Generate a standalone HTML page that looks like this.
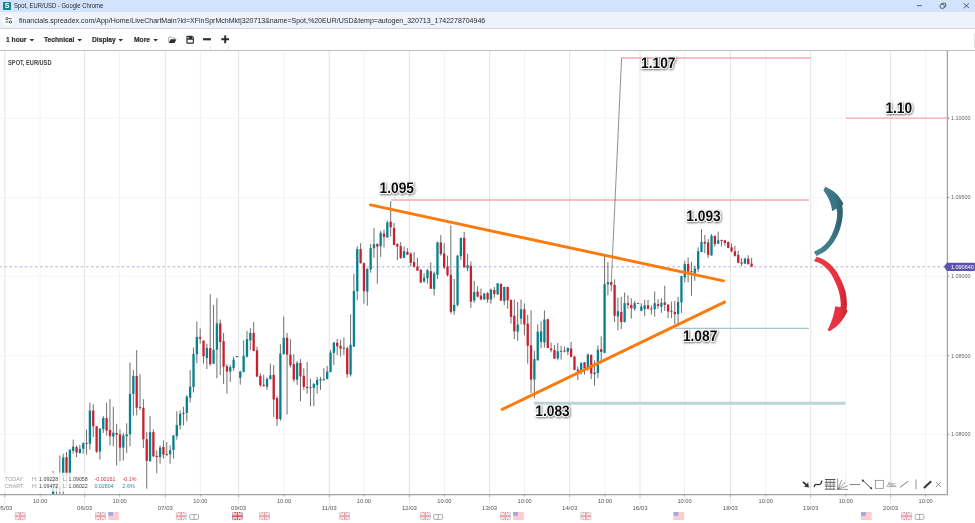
<!DOCTYPE html>
<html lang="en"><head><meta charset="utf-8"><title>Spot, EUR/USD - Google Chrome</title>
<style>
html,body{margin:0;padding:0;background:#fff;}
body{width:975px;height:523px;overflow:hidden;position:relative;font-family:"Liberation Sans",Arial,sans-serif;}
.titlebar{position:absolute;left:0;top:0;width:975px;height:11.5px;background:#d3e3fd;}
.urlbar{position:absolute;left:0;top:11.5px;width:975px;height:17px;background:#eef2fb;}
.toolbar{position:absolute;left:0;top:28px;width:975px;height:21.5px;background:#fff;border-top:1.3px solid #d2d3d6;border-bottom:1.8px solid #bcbcbc;box-sizing:border-box;height:23px}
.t{position:absolute;white-space:nowrap;line-height:1;}
.chart{position:absolute;left:0;top:0;}
.fav{position:absolute;left:3.1px;top:1.5px;width:7.9px;height:8.2px;background:#17878c;border-radius:0.6px;}
.fav span{position:absolute;left:0;top:0.6px;width:7.9px;text-align:center;color:#fff;font-weight:700;font-size:7px;line-height:7px;}
.tb{top:37.45px;font-size:6.9px;font-weight:700;color:#2e2e2e;-webkit-text-stroke:0.2px #2e2e2e;transform:scaleX(0.97);transform-origin:0 0;}
</style></head><body>
<div class="titlebar"></div>
<div class="urlbar"></div>
<div class="toolbar"></div>
<div class="fav"><span>S</span></div>
<div class="t" id="ttl" style="left:13.7px;top:2.85px;font-size:6.7px;color:#2a2a2a;transform:scaleX(0.887);transform-origin:0 0;">Spot, EUR/USD - Google Chrome</div>
<svg class="chart" width="975" height="51" viewBox="0 0 975 51" style="z-index:2">
 <circle cx="8.1" cy="20" r="5.6" fill="#fff"/>
 <g stroke="#3a3a3a" stroke-width="0.85" fill="none"><path d="M8.8 18.7 H11.9 M5.5 22 H8.6"/><circle cx="6.9" cy="18.7" r="1.15"/><circle cx="10.5" cy="22" r="1.15"/></g>
 <path d="M916.8 5.7 H922" stroke="#333" stroke-width="0.7"/>
 <g fill="none" stroke="#333" stroke-width="0.7"><rect x="940.2" y="4.3" width="4" height="4" rx="1"/><path d="M941.6 4.3 V3.9 Q941.6 3.2 942.4 3.2 H944.8 Q945.7 3.2 945.7 4 V6.4 Q945.7 7.1 944.9 7.1 H944.3"/></g>
 <path d="M963.5 3.3 L969.1 8.1 M969.1 3.3 L963.5 8.1" stroke="#333" stroke-width="0.75"/>
 <g fill="#2e2e2e">
  <path d="M29.6 39.1 H34.2 L31.9 41.5 Z"/><path d="M77.4 39.1 H82 L79.7 41.5 Z"/><path d="M118.4 39.1 H123 L120.7 41.5 Z"/><path d="M153.3 39.1 H157.9 L155.6 41.5 Z"/>
  <path d="M168.7 42.2 V37.5 Q168.7 37 169.2 37 H170.9 L171.7 37.9 H174.3 Q174.8 37.9 174.8 38.4 V39" fill="none" stroke="#8a8a8a" stroke-width="0.7"/>
  <path d="M170.6 39.2 H176.4 L174.6 42.9 H168.8 Z"/>
  <path d="M186.4 36.7 Q186.4 35.8 187.3 35.8 H192.2 L193.9 37.3 V42.8 Q193.9 43.7 193 43.7 H187.3 Q186.4 43.7 186.4 42.8 Z M187.6 39.7 V42.6 H192.8 V39.7 Z M187.6 36.9 V38.5 H188.7 V36.9 Z M192.1 36.9 V38.5 H192.8 V37.6 Z" fill-rule="evenodd"/>
  <rect x="203.1" y="38.15" width="7.8" height="2.2"/>
  <rect x="221.3" y="38.25" width="7.8" height="2.0"/><rect x="224.2" y="35.4" width="2.0" height="7.8"/>
 </g>
 <path d="M210.5 45.6 V49.4 M228.5 45.6 V49.4" stroke="#d0d0d0" stroke-width="0.6"/>
 <rect x="974.2" y="33.4" width="0.8" height="14.3" fill="#dcdcdc"/>
</svg>
<div class="t tb" style="left:5.9px;">1 hour</div>
<div class="t tb" style="left:44.3px;">Technical</div>
<div class="t tb" style="left:92.2px;">Display</div>
<div class="t tb" style="left:133.6px;">More</div>
<div class="t" id="url" style="left:18.7px;top:16.9px;font-size:7.8px;color:#2a2a2a;transform:scaleX(0.9);transform-origin:0 0;">financials.spreadex.com/App/Home/LiveChartMain?id=XFinSprMchMkt|320713&amp;name=Spot,%20EUR/USD&amp;temp=autogen_320713_1742278704946</div>
<svg class="chart" width="975" height="523" viewBox="0 0 975 523">
<defs><filter id="ts" x="-20%" y="-20%" width="140%" height="150%"><feDropShadow dx="0.7" dy="0.9" stdDeviation="0.9" flood-color="#000" flood-opacity="0.6"/></filter></defs>
<line x1="4.8" y1="51" x2="4.8" y2="494.5" stroke="#dcdcdc" stroke-width="0.8"/>
<line x1="84.6" y1="51" x2="84.6" y2="494.5" stroke="#dcdcdc" stroke-width="0.8"/>
<line x1="165.3" y1="51" x2="165.3" y2="494.5" stroke="#dcdcdc" stroke-width="0.8"/>
<line x1="238.6" y1="51" x2="238.6" y2="494.5" stroke="#dcdcdc" stroke-width="0.8"/>
<line x1="329.2" y1="51" x2="329.2" y2="494.5" stroke="#dcdcdc" stroke-width="0.8"/>
<line x1="409.3" y1="51" x2="409.3" y2="494.5" stroke="#dcdcdc" stroke-width="0.8"/>
<line x1="489.6" y1="51" x2="489.6" y2="494.5" stroke="#dcdcdc" stroke-width="0.8"/>
<line x1="569.7" y1="51" x2="569.7" y2="494.5" stroke="#dcdcdc" stroke-width="0.8"/>
<line x1="640" y1="51" x2="640" y2="494.5" stroke="#dcdcdc" stroke-width="0.8"/>
<line x1="730.4" y1="51" x2="730.4" y2="494.5" stroke="#dcdcdc" stroke-width="0.8"/>
<line x1="810.7" y1="51" x2="810.7" y2="494.5" stroke="#dcdcdc" stroke-width="0.8"/>
<line x1="890.6" y1="51" x2="890.6" y2="494.5" stroke="#dcdcdc" stroke-width="0.8"/>
<line x1="40.2" y1="51" x2="40.2" y2="494.5" stroke="#efefef" stroke-width="0.8"/>
<line x1="119.6" y1="51" x2="119.6" y2="494.5" stroke="#efefef" stroke-width="0.8"/>
<line x1="200.4" y1="51" x2="200.4" y2="494.5" stroke="#efefef" stroke-width="0.8"/>
<line x1="284" y1="51" x2="284" y2="494.5" stroke="#efefef" stroke-width="0.8"/>
<line x1="363.9" y1="51" x2="363.9" y2="494.5" stroke="#efefef" stroke-width="0.8"/>
<line x1="444.4" y1="51" x2="444.4" y2="494.5" stroke="#efefef" stroke-width="0.8"/>
<line x1="524.6" y1="51" x2="524.6" y2="494.5" stroke="#efefef" stroke-width="0.8"/>
<line x1="605" y1="51" x2="605" y2="494.5" stroke="#efefef" stroke-width="0.8"/>
<line x1="684.5" y1="51" x2="684.5" y2="494.5" stroke="#efefef" stroke-width="0.8"/>
<line x1="765.7" y1="51" x2="765.7" y2="494.5" stroke="#efefef" stroke-width="0.8"/>
<line x1="845.8" y1="51" x2="845.8" y2="494.5" stroke="#efefef" stroke-width="0.8"/>
<line x1="925.6" y1="51" x2="925.6" y2="494.5" stroke="#efefef" stroke-width="0.8"/>
<line x1="0" y1="118.2" x2="945.8" y2="118.2" stroke="#f3f3f3" stroke-width="0.9"/>
<line x1="0" y1="197.5" x2="945.8" y2="197.5" stroke="#f3f3f3" stroke-width="0.9"/>
<line x1="0" y1="276.3" x2="945.8" y2="276.3" stroke="#f3f3f3" stroke-width="0.9"/>
<line x1="0" y1="355.7" x2="945.8" y2="355.7" stroke="#f3f3f3" stroke-width="0.9"/>
<line x1="0" y1="434.4" x2="945.8" y2="434.4" stroke="#f3f3f3" stroke-width="0.9"/>
<line x1="-0.75" y1="266.7" x2="944" y2="266.7" stroke="#c9c6ed" stroke-width="1.35" stroke-dasharray="2.6 2.5"/>
<g id="candles">
<line x1="53.14" y1="470.9" x2="53.14" y2="494.5" stroke="#4a4a4a" stroke-width="0.8"/>
<rect x="51.99" y="484.3" width="2.3" height="10.2" fill="#06828f"/>
<line x1="56.48" y1="483.2" x2="56.48" y2="494.5" stroke="#4a4a4a" stroke-width="0.8"/>
<rect x="55.33" y="483.8" width="2.3" height="5.0" fill="#c9202f"/>
<line x1="59.83" y1="455.4" x2="59.83" y2="494.5" stroke="#4a4a4a" stroke-width="0.8"/>
<rect x="58.68" y="487.0" width="2.3" height="3.0" fill="#06828f"/>
<line x1="63.17" y1="453.7" x2="63.17" y2="494.5" stroke="#4a4a4a" stroke-width="0.8"/>
<rect x="62.02" y="457.6" width="2.3" height="19.0" fill="#06828f"/>
<line x1="66.51" y1="452.1" x2="66.51" y2="486.2" stroke="#4a4a4a" stroke-width="0.8"/>
<rect x="65.36" y="457.1" width="2.3" height="19.0" fill="#c9202f"/>
<line x1="69.85" y1="449.6" x2="69.85" y2="477.0" stroke="#4a4a4a" stroke-width="0.8"/>
<rect x="68.70" y="449.6" width="2.3" height="26.4" fill="#06828f"/>
<line x1="73.19" y1="439.6" x2="73.19" y2="453.7" stroke="#4a4a4a" stroke-width="0.8"/>
<rect x="72.04" y="446.6" width="2.3" height="4.3" fill="#06828f"/>
<line x1="76.54" y1="445.4" x2="76.54" y2="457.1" stroke="#4a4a4a" stroke-width="0.8"/>
<rect x="75.39" y="447.1" width="2.3" height="5.5" fill="#c9202f"/>
<line x1="79.88" y1="444.9" x2="79.88" y2="453.7" stroke="#4a4a4a" stroke-width="0.8"/>
<rect x="78.73" y="448.8" width="2.3" height="4.2" fill="#06828f"/>
<line x1="83.22" y1="442.1" x2="83.22" y2="453.7" stroke="#4a4a4a" stroke-width="0.8"/>
<rect x="82.07" y="443.3" width="2.3" height="5.5" fill="#06828f"/>
<line x1="86.56" y1="429.6" x2="86.56" y2="454.6" stroke="#4a4a4a" stroke-width="0.8"/>
<line x1="85.36" y1="443.4" x2="87.76" y2="443.4" stroke="#444" stroke-width="0.8"/>
<line x1="89.90" y1="402.5" x2="89.90" y2="449.6" stroke="#4a4a4a" stroke-width="0.8"/>
<rect x="88.75" y="410.5" width="2.3" height="33.3" fill="#06828f"/>
<line x1="93.25" y1="404.2" x2="93.25" y2="437.1" stroke="#4a4a4a" stroke-width="0.8"/>
<rect x="92.10" y="410.5" width="2.3" height="15.8" fill="#c9202f"/>
<line x1="96.59" y1="426.0" x2="96.59" y2="452.9" stroke="#4a4a4a" stroke-width="0.8"/>
<rect x="95.44" y="426.3" width="2.3" height="25.3" fill="#c9202f"/>
<line x1="99.93" y1="428.0" x2="99.93" y2="459.6" stroke="#4a4a4a" stroke-width="0.8"/>
<rect x="98.78" y="428.8" width="2.3" height="22.8" fill="#06828f"/>
<line x1="103.27" y1="416.0" x2="103.27" y2="433.0" stroke="#4a4a4a" stroke-width="0.8"/>
<rect x="102.12" y="418.0" width="2.3" height="11.3" fill="#06828f"/>
<line x1="106.61" y1="402.8" x2="106.61" y2="435.4" stroke="#4a4a4a" stroke-width="0.8"/>
<rect x="105.46" y="418.0" width="2.3" height="12.5" fill="#c9202f"/>
<line x1="109.96" y1="399.2" x2="109.96" y2="445.4" stroke="#4a4a4a" stroke-width="0.8"/>
<rect x="108.81" y="430.0" width="2.3" height="6.3" fill="#c9202f"/>
<line x1="113.30" y1="406.8" x2="113.30" y2="446.3" stroke="#4a4a4a" stroke-width="0.8"/>
<rect x="112.15" y="432.6" width="2.3" height="4.0" fill="#06828f"/>
<line x1="116.64" y1="423.8" x2="116.64" y2="465.4" stroke="#4a4a4a" stroke-width="0.8"/>
<rect x="115.49" y="433.0" width="2.3" height="1.7" fill="#c9202f"/>
<line x1="119.98" y1="429.3" x2="119.98" y2="461.2" stroke="#4a4a4a" stroke-width="0.8"/>
<rect x="118.83" y="434.3" width="2.3" height="13.3" fill="#c9202f"/>
<line x1="123.32" y1="433.0" x2="123.32" y2="460.4" stroke="#4a4a4a" stroke-width="0.8"/>
<rect x="122.17" y="435.4" width="2.3" height="12.1" fill="#06828f"/>
<line x1="126.67" y1="423.3" x2="126.67" y2="452.9" stroke="#4a4a4a" stroke-width="0.8"/>
<rect x="125.52" y="434.3" width="2.3" height="2.0" fill="#06828f"/>
<line x1="130.01" y1="362.6" x2="130.01" y2="446.3" stroke="#4a4a4a" stroke-width="0.8"/>
<rect x="128.86" y="393.9" width="2.3" height="40.4" fill="#06828f"/>
<line x1="133.35" y1="370.1" x2="133.35" y2="415.5" stroke="#4a4a4a" stroke-width="0.8"/>
<rect x="132.20" y="375.9" width="2.3" height="18.0" fill="#06828f"/>
<line x1="136.69" y1="350.1" x2="136.69" y2="415.5" stroke="#4a4a4a" stroke-width="0.8"/>
<rect x="135.54" y="375.9" width="2.3" height="31.8" fill="#c9202f"/>
<line x1="140.03" y1="374.2" x2="140.03" y2="410.0" stroke="#4a4a4a" stroke-width="0.8"/>
<line x1="138.83" y1="407.5" x2="141.23" y2="407.5" stroke="#444" stroke-width="0.8"/>
<line x1="143.38" y1="399.2" x2="143.38" y2="447.9" stroke="#4a4a4a" stroke-width="0.8"/>
<rect x="142.23" y="407.8" width="2.3" height="31.4" fill="#c9202f"/>
<line x1="146.72" y1="432.1" x2="146.72" y2="488.7" stroke="#4a4a4a" stroke-width="0.8"/>
<rect x="145.57" y="439.3" width="2.3" height="21.6" fill="#c9202f"/>
<line x1="150.06" y1="416.0" x2="150.06" y2="461.6" stroke="#4a4a4a" stroke-width="0.8"/>
<rect x="148.91" y="432.1" width="2.3" height="29.1" fill="#06828f"/>
<line x1="153.40" y1="429.3" x2="153.40" y2="457.1" stroke="#4a4a4a" stroke-width="0.8"/>
<rect x="152.25" y="432.1" width="2.3" height="24.1" fill="#c9202f"/>
<line x1="156.74" y1="450.4" x2="156.74" y2="473.2" stroke="#4a4a4a" stroke-width="0.8"/>
<rect x="155.59" y="455.9" width="2.3" height="1.2" fill="#c9202f"/>
<line x1="160.09" y1="445.4" x2="160.09" y2="463.7" stroke="#4a4a4a" stroke-width="0.8"/>
<rect x="158.94" y="447.6" width="2.3" height="9.5" fill="#06828f"/>
<line x1="163.43" y1="440.4" x2="163.43" y2="458.7" stroke="#4a4a4a" stroke-width="0.8"/>
<rect x="162.28" y="447.1" width="2.3" height="7.5" fill="#c9202f"/>
<line x1="166.77" y1="442.1" x2="166.77" y2="455.7" stroke="#4a4a4a" stroke-width="0.8"/>
<line x1="165.57" y1="454.6" x2="167.97" y2="454.6" stroke="#444" stroke-width="0.8"/>
<line x1="170.11" y1="445.4" x2="170.11" y2="463.7" stroke="#4a4a4a" stroke-width="0.8"/>
<rect x="168.96" y="450.1" width="2.3" height="4.2" fill="#06828f"/>
<line x1="173.45" y1="435.4" x2="173.45" y2="458.7" stroke="#4a4a4a" stroke-width="0.8"/>
<rect x="172.30" y="435.4" width="2.3" height="14.6" fill="#06828f"/>
<line x1="176.80" y1="411.3" x2="176.80" y2="439.6" stroke="#4a4a4a" stroke-width="0.8"/>
<rect x="175.65" y="425.0" width="2.3" height="11.0" fill="#06828f"/>
<line x1="180.14" y1="410.5" x2="180.14" y2="429.6" stroke="#4a4a4a" stroke-width="0.8"/>
<rect x="178.99" y="413.8" width="2.3" height="11.6" fill="#06828f"/>
<line x1="183.48" y1="406.8" x2="183.48" y2="425.5" stroke="#4a4a4a" stroke-width="0.8"/>
<line x1="182.28" y1="413.5" x2="184.68" y2="413.5" stroke="#444" stroke-width="0.8"/>
<line x1="186.82" y1="395.0" x2="186.82" y2="421.3" stroke="#4a4a4a" stroke-width="0.8"/>
<rect x="185.67" y="396.7" width="2.3" height="16.3" fill="#06828f"/>
<line x1="190.16" y1="370.1" x2="190.16" y2="402.5" stroke="#4a4a4a" stroke-width="0.8"/>
<rect x="189.01" y="386.7" width="2.3" height="11.1" fill="#06828f"/>
<line x1="193.51" y1="347.6" x2="193.51" y2="392.5" stroke="#4a4a4a" stroke-width="0.8"/>
<rect x="192.36" y="353.9" width="2.3" height="33.1" fill="#06828f"/>
<line x1="196.85" y1="321.5" x2="196.85" y2="363.4" stroke="#4a4a4a" stroke-width="0.8"/>
<rect x="195.70" y="337.0" width="2.3" height="17.3" fill="#06828f"/>
<line x1="200.19" y1="328.5" x2="200.19" y2="343.5" stroke="#4a4a4a" stroke-width="0.8"/>
<rect x="199.04" y="337.2" width="2.3" height="1.7" fill="#c9202f"/>
<line x1="203.53" y1="340.3" x2="203.53" y2="363.6" stroke="#4a4a4a" stroke-width="0.8"/>
<rect x="202.38" y="340.7" width="2.3" height="15.6" fill="#c9202f"/>
<line x1="206.87" y1="343.8" x2="206.87" y2="369.1" stroke="#4a4a4a" stroke-width="0.8"/>
<rect x="205.72" y="348.0" width="2.3" height="10.0" fill="#06828f"/>
<line x1="210.22" y1="294.1" x2="210.22" y2="365.8" stroke="#4a4a4a" stroke-width="0.8"/>
<rect x="209.07" y="348.0" width="2.3" height="16.1" fill="#c9202f"/>
<line x1="213.56" y1="304.9" x2="213.56" y2="364.0" stroke="#4a4a4a" stroke-width="0.8"/>
<rect x="212.41" y="349.7" width="2.3" height="14.0" fill="#06828f"/>
<line x1="216.90" y1="298.3" x2="216.90" y2="378.3" stroke="#4a4a4a" stroke-width="0.8"/>
<rect x="215.75" y="323.4" width="2.3" height="26.3" fill="#06828f"/>
<line x1="220.24" y1="319.5" x2="220.24" y2="374.9" stroke="#4a4a4a" stroke-width="0.8"/>
<rect x="219.09" y="323.4" width="2.3" height="18.6" fill="#c9202f"/>
<line x1="223.58" y1="332.9" x2="223.58" y2="384.1" stroke="#4a4a4a" stroke-width="0.8"/>
<rect x="222.43" y="341.2" width="2.3" height="25.5" fill="#c9202f"/>
<line x1="226.93" y1="364.1" x2="226.93" y2="393.6" stroke="#4a4a4a" stroke-width="0.8"/>
<rect x="225.78" y="366.3" width="2.3" height="5.3" fill="#c9202f"/>
<line x1="230.27" y1="365.0" x2="230.27" y2="381.9" stroke="#4a4a4a" stroke-width="0.8"/>
<rect x="229.12" y="367.1" width="2.3" height="4.5" fill="#06828f"/>
<line x1="233.61" y1="356.6" x2="233.61" y2="370.8" stroke="#4a4a4a" stroke-width="0.8"/>
<rect x="232.46" y="359.6" width="2.3" height="8.3" fill="#06828f"/>
<line x1="236.95" y1="356.0" x2="236.95" y2="357.3" stroke="#4a4a4a" stroke-width="0.8"/>
<line x1="235.75" y1="356.6" x2="238.15" y2="356.6" stroke="#444" stroke-width="0.8"/>
<line x1="240.29" y1="370.8" x2="240.29" y2="384.6" stroke="#4a4a4a" stroke-width="0.8"/>
<rect x="239.14" y="371.6" width="2.3" height="6.3" fill="#06828f"/>
<line x1="243.64" y1="340.3" x2="243.64" y2="372.4" stroke="#4a4a4a" stroke-width="0.8"/>
<rect x="242.49" y="355.8" width="2.3" height="16.1" fill="#06828f"/>
<line x1="246.98" y1="330.9" x2="246.98" y2="357.5" stroke="#4a4a4a" stroke-width="0.8"/>
<rect x="245.83" y="339.2" width="2.3" height="17.5" fill="#06828f"/>
<line x1="250.32" y1="328.2" x2="250.32" y2="350.0" stroke="#4a4a4a" stroke-width="0.8"/>
<rect x="249.17" y="332.9" width="2.3" height="7.5" fill="#06828f"/>
<line x1="253.66" y1="322.0" x2="253.66" y2="351.3" stroke="#4a4a4a" stroke-width="0.8"/>
<rect x="252.51" y="332.9" width="2.3" height="18.0" fill="#c9202f"/>
<line x1="257.00" y1="346.7" x2="257.00" y2="376.9" stroke="#4a4a4a" stroke-width="0.8"/>
<rect x="255.85" y="350.3" width="2.3" height="26.3" fill="#c9202f"/>
<line x1="260.35" y1="373.3" x2="260.35" y2="386.6" stroke="#4a4a4a" stroke-width="0.8"/>
<rect x="259.20" y="375.8" width="2.3" height="9.5" fill="#c9202f"/>
<line x1="263.69" y1="374.9" x2="263.69" y2="386.6" stroke="#4a4a4a" stroke-width="0.8"/>
<rect x="262.54" y="384.8" width="2.3" height="1.3" fill="#c9202f"/>
<line x1="267.03" y1="377.4" x2="267.03" y2="389.9" stroke="#4a4a4a" stroke-width="0.8"/>
<rect x="265.88" y="378.8" width="2.3" height="7.8" fill="#06828f"/>
<line x1="270.37" y1="363.6" x2="270.37" y2="379.4" stroke="#4a4a4a" stroke-width="0.8"/>
<rect x="269.22" y="375.3" width="2.3" height="3.8" fill="#06828f"/>
<line x1="273.71" y1="365.0" x2="273.71" y2="416.9" stroke="#4a4a4a" stroke-width="0.8"/>
<rect x="272.56" y="374.9" width="2.3" height="24.6" fill="#c9202f"/>
<line x1="277.06" y1="396.2" x2="277.06" y2="426.0" stroke="#4a4a4a" stroke-width="0.8"/>
<rect x="275.91" y="398.2" width="2.3" height="20.8" fill="#c9202f"/>
<line x1="280.40" y1="344.3" x2="280.40" y2="420.7" stroke="#4a4a4a" stroke-width="0.8"/>
<rect x="279.25" y="353.6" width="2.3" height="65.4" fill="#06828f"/>
<line x1="283.74" y1="316.5" x2="283.74" y2="354.5" stroke="#4a4a4a" stroke-width="0.8"/>
<rect x="282.59" y="337.8" width="2.3" height="16.3" fill="#06828f"/>
<line x1="287.08" y1="332.9" x2="287.08" y2="414.5" stroke="#4a4a4a" stroke-width="0.8"/>
<rect x="285.93" y="337.8" width="2.3" height="16.8" fill="#c9202f"/>
<line x1="290.42" y1="339.2" x2="290.42" y2="367.5" stroke="#4a4a4a" stroke-width="0.8"/>
<rect x="289.27" y="354.6" width="2.3" height="10.6" fill="#c9202f"/>
<line x1="293.77" y1="354.1" x2="293.77" y2="381.9" stroke="#4a4a4a" stroke-width="0.8"/>
<rect x="292.62" y="364.1" width="2.3" height="15.5" fill="#c9202f"/>
<line x1="297.11" y1="360.8" x2="297.11" y2="384.9" stroke="#4a4a4a" stroke-width="0.8"/>
<rect x="295.96" y="363.0" width="2.3" height="16.6" fill="#06828f"/>
<line x1="300.45" y1="359.1" x2="300.45" y2="401.2" stroke="#4a4a4a" stroke-width="0.8"/>
<rect x="299.30" y="363.0" width="2.3" height="13.3" fill="#c9202f"/>
<line x1="303.79" y1="368.3" x2="303.79" y2="389.9" stroke="#4a4a4a" stroke-width="0.8"/>
<rect x="302.64" y="375.8" width="2.3" height="11.1" fill="#c9202f"/>
<line x1="307.13" y1="362.1" x2="307.13" y2="393.6" stroke="#4a4a4a" stroke-width="0.8"/>
<rect x="305.98" y="386.9" width="2.3" height="1.0" fill="#c9202f"/>
<line x1="310.48" y1="378.6" x2="310.48" y2="406.2" stroke="#4a4a4a" stroke-width="0.8"/>
<line x1="309.28" y1="387.7" x2="311.68" y2="387.7" stroke="#444" stroke-width="0.8"/>
<line x1="313.82" y1="382.9" x2="313.82" y2="406.2" stroke="#4a4a4a" stroke-width="0.8"/>
<rect x="312.67" y="384.1" width="2.3" height="3.8" fill="#06828f"/>
<line x1="317.16" y1="376.9" x2="317.16" y2="393.6" stroke="#4a4a4a" stroke-width="0.8"/>
<rect x="316.01" y="379.9" width="2.3" height="5.0" fill="#06828f"/>
<line x1="320.50" y1="376.9" x2="320.50" y2="389.9" stroke="#4a4a4a" stroke-width="0.8"/>
<rect x="319.35" y="379.3" width="2.3" height="1.3" fill="#06828f"/>
<line x1="323.84" y1="368.3" x2="323.84" y2="380.8" stroke="#4a4a4a" stroke-width="0.8"/>
<line x1="322.64" y1="379.6" x2="325.04" y2="379.6" stroke="#444" stroke-width="0.8"/>
<line x1="327.19" y1="365.8" x2="327.19" y2="379.4" stroke="#4a4a4a" stroke-width="0.8"/>
<rect x="326.04" y="371.6" width="2.3" height="7.5" fill="#06828f"/>
<line x1="330.53" y1="350.0" x2="330.53" y2="372.4" stroke="#4a4a4a" stroke-width="0.8"/>
<rect x="329.38" y="352.5" width="2.3" height="19.5" fill="#06828f"/>
<line x1="333.87" y1="342.0" x2="333.87" y2="365.0" stroke="#4a4a4a" stroke-width="0.8"/>
<rect x="332.72" y="342.5" width="2.3" height="10.5" fill="#06828f"/>
<line x1="337.21" y1="339.0" x2="337.21" y2="355.0" stroke="#4a4a4a" stroke-width="0.8"/>
<rect x="336.06" y="342.8" width="2.3" height="3.5" fill="#c9202f"/>
<line x1="340.55" y1="339.8" x2="340.55" y2="356.6" stroke="#4a4a4a" stroke-width="0.8"/>
<rect x="339.40" y="345.8" width="2.3" height="2.8" fill="#c9202f"/>
<line x1="343.90" y1="337.3" x2="343.90" y2="355.0" stroke="#4a4a4a" stroke-width="0.8"/>
<line x1="342.70" y1="348.3" x2="345.10" y2="348.3" stroke="#444" stroke-width="0.8"/>
<line x1="347.24" y1="346.7" x2="347.24" y2="377.8" stroke="#4a4a4a" stroke-width="0.8"/>
<rect x="346.09" y="348.3" width="2.3" height="25.8" fill="#c9202f"/>
<line x1="350.58" y1="314.4" x2="350.58" y2="376.6" stroke="#4a4a4a" stroke-width="0.8"/>
<rect x="349.43" y="344.8" width="2.3" height="29.8" fill="#06828f"/>
<line x1="353.92" y1="273.8" x2="353.92" y2="347.0" stroke="#4a4a4a" stroke-width="0.8"/>
<rect x="352.77" y="290.9" width="2.3" height="55.7" fill="#06828f"/>
<line x1="357.26" y1="246.2" x2="357.26" y2="300.3" stroke="#4a4a4a" stroke-width="0.8"/>
<rect x="356.11" y="249.1" width="2.3" height="42.1" fill="#06828f"/>
<line x1="360.61" y1="243.2" x2="360.61" y2="263.5" stroke="#4a4a4a" stroke-width="0.8"/>
<rect x="359.46" y="249.1" width="2.3" height="14.1" fill="#c9202f"/>
<line x1="363.95" y1="262.4" x2="363.95" y2="303.6" stroke="#4a4a4a" stroke-width="0.8"/>
<rect x="362.80" y="263.2" width="2.3" height="28.0" fill="#c9202f"/>
<line x1="367.29" y1="268.2" x2="367.29" y2="305.8" stroke="#4a4a4a" stroke-width="0.8"/>
<rect x="366.14" y="269.0" width="2.3" height="22.6" fill="#06828f"/>
<line x1="370.63" y1="244.1" x2="370.63" y2="272.8" stroke="#4a4a4a" stroke-width="0.8"/>
<rect x="369.48" y="247.9" width="2.3" height="21.6" fill="#06828f"/>
<line x1="373.97" y1="227.9" x2="373.97" y2="257.9" stroke="#4a4a4a" stroke-width="0.8"/>
<rect x="372.82" y="244.1" width="2.3" height="4.2" fill="#06828f"/>
<line x1="377.32" y1="243.2" x2="377.32" y2="283.7" stroke="#4a4a4a" stroke-width="0.8"/>
<rect x="376.17" y="244.1" width="2.3" height="2.5" fill="#c9202f"/>
<line x1="380.66" y1="230.8" x2="380.66" y2="256.9" stroke="#4a4a4a" stroke-width="0.8"/>
<rect x="379.51" y="232.9" width="2.3" height="13.3" fill="#06828f"/>
<line x1="384.00" y1="229.6" x2="384.00" y2="247.4" stroke="#4a4a4a" stroke-width="0.8"/>
<rect x="382.85" y="233.6" width="2.3" height="3.3" fill="#c9202f"/>
<line x1="387.34" y1="220.3" x2="387.34" y2="237.9" stroke="#4a4a4a" stroke-width="0.8"/>
<rect x="386.19" y="222.4" width="2.3" height="15.0" fill="#06828f"/>
<line x1="390.68" y1="201.3" x2="390.68" y2="236.6" stroke="#4a4a4a" stroke-width="0.8"/>
<rect x="389.53" y="221.6" width="2.3" height="5.8" fill="#c9202f"/>
<line x1="394.03" y1="222.9" x2="394.03" y2="245.2" stroke="#4a4a4a" stroke-width="0.8"/>
<rect x="392.88" y="227.9" width="2.3" height="17.0" fill="#c9202f"/>
<line x1="397.37" y1="243.2" x2="397.37" y2="260.2" stroke="#4a4a4a" stroke-width="0.8"/>
<rect x="396.22" y="244.1" width="2.3" height="2.5" fill="#c9202f"/>
<line x1="400.71" y1="242.1" x2="400.71" y2="259.0" stroke="#4a4a4a" stroke-width="0.8"/>
<rect x="399.56" y="246.2" width="2.3" height="11.6" fill="#c9202f"/>
<line x1="404.05" y1="246.6" x2="404.05" y2="258.2" stroke="#4a4a4a" stroke-width="0.8"/>
<rect x="402.90" y="251.2" width="2.3" height="6.7" fill="#06828f"/>
<line x1="407.39" y1="248.2" x2="407.39" y2="255.2" stroke="#4a4a4a" stroke-width="0.8"/>
<rect x="406.24" y="251.9" width="2.3" height="2.7" fill="#c9202f"/>
<line x1="410.74" y1="252.4" x2="410.74" y2="266.5" stroke="#4a4a4a" stroke-width="0.8"/>
<rect x="409.59" y="253.5" width="2.3" height="9.3" fill="#c9202f"/>
<line x1="414.08" y1="252.1" x2="414.08" y2="267.2" stroke="#4a4a4a" stroke-width="0.8"/>
<rect x="412.93" y="262.0" width="2.3" height="4.8" fill="#c9202f"/>
<line x1="417.42" y1="257.9" x2="417.42" y2="271.0" stroke="#4a4a4a" stroke-width="0.8"/>
<rect x="416.27" y="266.5" width="2.3" height="4.2" fill="#c9202f"/>
<line x1="420.76" y1="269.0" x2="420.76" y2="282.7" stroke="#4a4a4a" stroke-width="0.8"/>
<rect x="419.61" y="269.9" width="2.3" height="12.6" fill="#c9202f"/>
<line x1="424.10" y1="273.2" x2="424.10" y2="282.8" stroke="#4a4a4a" stroke-width="0.8"/>
<rect x="422.95" y="277.7" width="2.3" height="3.8" fill="#06828f"/>
<line x1="427.45" y1="269.0" x2="427.45" y2="283.7" stroke="#4a4a4a" stroke-width="0.8"/>
<rect x="426.30" y="270.2" width="2.3" height="8.0" fill="#06828f"/>
<line x1="430.79" y1="262.4" x2="430.79" y2="289.0" stroke="#4a4a4a" stroke-width="0.8"/>
<rect x="429.64" y="271.2" width="2.3" height="17.5" fill="#c9202f"/>
<line x1="434.13" y1="271.5" x2="434.13" y2="295.6" stroke="#4a4a4a" stroke-width="0.8"/>
<rect x="432.98" y="273.5" width="2.3" height="15.5" fill="#06828f"/>
<line x1="437.47" y1="241.6" x2="437.47" y2="279.0" stroke="#4a4a4a" stroke-width="0.8"/>
<rect x="436.32" y="242.4" width="2.3" height="32.4" fill="#06828f"/>
<line x1="440.81" y1="234.9" x2="440.81" y2="255.7" stroke="#4a4a4a" stroke-width="0.8"/>
<rect x="439.66" y="242.4" width="2.3" height="11.6" fill="#c9202f"/>
<line x1="444.16" y1="243.2" x2="444.16" y2="269.0" stroke="#4a4a4a" stroke-width="0.8"/>
<rect x="443.01" y="253.5" width="2.3" height="13.8" fill="#c9202f"/>
<line x1="447.50" y1="255.7" x2="447.50" y2="276.5" stroke="#4a4a4a" stroke-width="0.8"/>
<rect x="446.35" y="266.5" width="2.3" height="8.6" fill="#c9202f"/>
<line x1="450.84" y1="225.4" x2="450.84" y2="313.6" stroke="#4a4a4a" stroke-width="0.8"/>
<rect x="449.69" y="274.8" width="2.3" height="37.1" fill="#c9202f"/>
<line x1="454.18" y1="279.0" x2="454.18" y2="314.8" stroke="#4a4a4a" stroke-width="0.8"/>
<rect x="453.03" y="305.0" width="2.3" height="6.2" fill="#06828f"/>
<line x1="457.52" y1="254.9" x2="457.52" y2="306.6" stroke="#4a4a4a" stroke-width="0.8"/>
<rect x="456.37" y="255.7" width="2.3" height="49.2" fill="#06828f"/>
<line x1="460.87" y1="237.6" x2="460.87" y2="259.9" stroke="#4a4a4a" stroke-width="0.8"/>
<rect x="459.72" y="237.9" width="2.3" height="18.3" fill="#06828f"/>
<line x1="464.21" y1="231.9" x2="464.21" y2="267.7" stroke="#4a4a4a" stroke-width="0.8"/>
<rect x="463.06" y="237.9" width="2.3" height="29.4" fill="#c9202f"/>
<line x1="467.55" y1="254.0" x2="467.55" y2="271.2" stroke="#4a4a4a" stroke-width="0.8"/>
<rect x="466.40" y="265.2" width="2.3" height="3.0" fill="#06828f"/>
<line x1="470.89" y1="261.5" x2="470.89" y2="307.8" stroke="#4a4a4a" stroke-width="0.8"/>
<rect x="469.74" y="265.7" width="2.3" height="35.9" fill="#c9202f"/>
<line x1="474.23" y1="280.7" x2="474.23" y2="302.8" stroke="#4a4a4a" stroke-width="0.8"/>
<rect x="473.08" y="292.0" width="2.3" height="8.6" fill="#06828f"/>
<line x1="477.58" y1="286.2" x2="477.58" y2="297.3" stroke="#4a4a4a" stroke-width="0.8"/>
<rect x="476.43" y="291.6" width="2.3" height="5.0" fill="#c9202f"/>
<line x1="480.92" y1="288.7" x2="480.92" y2="300.3" stroke="#4a4a4a" stroke-width="0.8"/>
<rect x="479.77" y="295.6" width="2.3" height="3.8" fill="#c9202f"/>
<line x1="484.26" y1="292.8" x2="484.26" y2="300.0" stroke="#4a4a4a" stroke-width="0.8"/>
<rect x="483.11" y="293.6" width="2.3" height="5.8" fill="#06828f"/>
<line x1="487.60" y1="292.0" x2="487.60" y2="302.8" stroke="#4a4a4a" stroke-width="0.8"/>
<rect x="486.45" y="293.3" width="2.3" height="6.2" fill="#c9202f"/>
<line x1="490.94" y1="288.7" x2="490.94" y2="303.6" stroke="#4a4a4a" stroke-width="0.8"/>
<rect x="489.79" y="289.5" width="2.3" height="10.0" fill="#06828f"/>
<line x1="494.29" y1="287.0" x2="494.29" y2="297.8" stroke="#4a4a4a" stroke-width="0.8"/>
<rect x="493.14" y="290.0" width="2.3" height="4.0" fill="#c9202f"/>
<line x1="497.63" y1="283.3" x2="497.63" y2="294.8" stroke="#4a4a4a" stroke-width="0.8"/>
<rect x="496.48" y="283.3" width="2.3" height="11.1" fill="#06828f"/>
<line x1="500.97" y1="283.3" x2="500.97" y2="301.0" stroke="#4a4a4a" stroke-width="0.8"/>
<rect x="499.82" y="284.0" width="2.3" height="16.6" fill="#c9202f"/>
<line x1="504.31" y1="286.7" x2="504.31" y2="305.0" stroke="#4a4a4a" stroke-width="0.8"/>
<rect x="503.16" y="287.0" width="2.3" height="14.1" fill="#06828f"/>
<line x1="507.65" y1="286.7" x2="507.65" y2="308.7" stroke="#4a4a4a" stroke-width="0.8"/>
<rect x="506.50" y="287.0" width="2.3" height="13.3" fill="#c9202f"/>
<line x1="511.00" y1="299.5" x2="511.00" y2="323.6" stroke="#4a4a4a" stroke-width="0.8"/>
<rect x="509.85" y="299.9" width="2.3" height="17.1" fill="#c9202f"/>
<line x1="514.34" y1="299.5" x2="514.34" y2="339.1" stroke="#4a4a4a" stroke-width="0.8"/>
<rect x="513.19" y="315.8" width="2.3" height="15.5" fill="#c9202f"/>
<line x1="517.68" y1="302.0" x2="517.68" y2="340.8" stroke="#4a4a4a" stroke-width="0.8"/>
<rect x="516.53" y="324.5" width="2.3" height="7.2" fill="#06828f"/>
<line x1="521.02" y1="299.5" x2="521.02" y2="324.5" stroke="#4a4a4a" stroke-width="0.8"/>
<rect x="519.87" y="309.2" width="2.3" height="9.5" fill="#06828f"/>
<line x1="524.36" y1="303.4" x2="524.36" y2="335.3" stroke="#4a4a4a" stroke-width="0.8"/>
<rect x="523.21" y="309.2" width="2.3" height="15.3" fill="#c9202f"/>
<line x1="527.71" y1="314.8" x2="527.71" y2="363.6" stroke="#4a4a4a" stroke-width="0.8"/>
<rect x="526.56" y="323.7" width="2.3" height="22.1" fill="#c9202f"/>
<line x1="531.05" y1="310.4" x2="531.05" y2="392.9" stroke="#4a4a4a" stroke-width="0.8"/>
<rect x="529.90" y="345.3" width="2.3" height="34.3" fill="#c9202f"/>
<line x1="534.39" y1="350.8" x2="534.39" y2="398.2" stroke="#4a4a4a" stroke-width="0.8"/>
<rect x="533.24" y="359.1" width="2.3" height="20.5" fill="#06828f"/>
<line x1="537.73" y1="324.2" x2="537.73" y2="360.6" stroke="#4a4a4a" stroke-width="0.8"/>
<rect x="536.58" y="331.7" width="2.3" height="28.6" fill="#06828f"/>
<line x1="541.07" y1="321.2" x2="541.07" y2="348.3" stroke="#4a4a4a" stroke-width="0.8"/>
<rect x="539.92" y="331.3" width="2.3" height="10.6" fill="#06828f"/>
<line x1="544.42" y1="310.4" x2="544.42" y2="347.5" stroke="#4a4a4a" stroke-width="0.8"/>
<rect x="543.27" y="319.5" width="2.3" height="23.0" fill="#06828f"/>
<line x1="547.76" y1="318.7" x2="547.76" y2="348.3" stroke="#4a4a4a" stroke-width="0.8"/>
<rect x="546.61" y="319.2" width="2.3" height="28.8" fill="#c9202f"/>
<line x1="551.10" y1="342.5" x2="551.10" y2="352.4" stroke="#4a4a4a" stroke-width="0.8"/>
<rect x="549.95" y="348.5" width="2.3" height="1.7" fill="#c9202f"/>
<line x1="554.44" y1="345.0" x2="554.44" y2="359.1" stroke="#4a4a4a" stroke-width="0.8"/>
<rect x="553.29" y="350.0" width="2.3" height="8.6" fill="#c9202f"/>
<line x1="557.78" y1="343.0" x2="557.78" y2="360.3" stroke="#4a4a4a" stroke-width="0.8"/>
<rect x="556.63" y="351.3" width="2.3" height="7.0" fill="#06828f"/>
<line x1="561.13" y1="345.8" x2="561.13" y2="359.6" stroke="#4a4a4a" stroke-width="0.8"/>
<rect x="559.98" y="350.8" width="2.3" height="1.0" fill="#06828f"/>
<line x1="564.47" y1="346.6" x2="564.47" y2="352.4" stroke="#4a4a4a" stroke-width="0.8"/>
<rect x="563.32" y="350.6" width="2.3" height="1.0" fill="#c9202f"/>
<line x1="567.81" y1="347.5" x2="567.81" y2="354.9" stroke="#4a4a4a" stroke-width="0.8"/>
<rect x="566.66" y="348.0" width="2.3" height="3.7" fill="#06828f"/>
<line x1="571.15" y1="342.0" x2="571.15" y2="357.4" stroke="#4a4a4a" stroke-width="0.8"/>
<rect x="570.00" y="348.6" width="2.3" height="8.3" fill="#c9202f"/>
<line x1="574.49" y1="355.8" x2="574.49" y2="370.2" stroke="#4a4a4a" stroke-width="0.8"/>
<rect x="573.34" y="356.6" width="2.3" height="13.3" fill="#c9202f"/>
<line x1="577.84" y1="366.6" x2="577.84" y2="380.2" stroke="#4a4a4a" stroke-width="0.8"/>
<rect x="576.69" y="369.6" width="2.3" height="1.7" fill="#c9202f"/>
<line x1="581.18" y1="362.4" x2="581.18" y2="374.6" stroke="#4a4a4a" stroke-width="0.8"/>
<rect x="580.03" y="362.9" width="2.3" height="7.3" fill="#06828f"/>
<line x1="584.52" y1="361.9" x2="584.52" y2="374.6" stroke="#4a4a4a" stroke-width="0.8"/>
<rect x="583.37" y="362.4" width="2.3" height="6.2" fill="#c9202f"/>
<line x1="587.86" y1="353.3" x2="587.86" y2="370.7" stroke="#4a4a4a" stroke-width="0.8"/>
<rect x="586.71" y="354.6" width="2.3" height="13.3" fill="#06828f"/>
<line x1="591.20" y1="354.3" x2="591.20" y2="379.1" stroke="#4a4a4a" stroke-width="0.8"/>
<rect x="590.05" y="354.9" width="2.3" height="18.6" fill="#c9202f"/>
<line x1="594.55" y1="360.3" x2="594.55" y2="385.7" stroke="#4a4a4a" stroke-width="0.8"/>
<rect x="593.40" y="372.4" width="2.3" height="1.7" fill="#06828f"/>
<line x1="597.89" y1="345.3" x2="597.89" y2="378.2" stroke="#4a4a4a" stroke-width="0.8"/>
<rect x="596.74" y="349.6" width="2.3" height="23.3" fill="#06828f"/>
<line x1="601.23" y1="336.3" x2="601.23" y2="360.8" stroke="#4a4a4a" stroke-width="0.8"/>
<rect x="600.08" y="349.1" width="2.3" height="2.8" fill="#c9202f"/>
<line x1="604.57" y1="256.3" x2="604.57" y2="353.3" stroke="#4a4a4a" stroke-width="0.8"/>
<rect x="603.42" y="284.2" width="2.3" height="68.7" fill="#06828f"/>
<line x1="607.91" y1="262.1" x2="607.91" y2="295.4" stroke="#4a4a4a" stroke-width="0.8"/>
<rect x="606.76" y="282.1" width="2.3" height="2.2" fill="#06828f"/>
<line x1="611.26" y1="281.6" x2="611.26" y2="291.2" stroke="#4a4a4a" stroke-width="0.8"/>
<rect x="610.11" y="282.1" width="2.3" height="2.8" fill="#c9202f"/>
<line x1="614.60" y1="279.3" x2="614.60" y2="322.0" stroke="#4a4a4a" stroke-width="0.8"/>
<rect x="613.45" y="284.9" width="2.3" height="30.9" fill="#c9202f"/>
<line x1="617.94" y1="297.5" x2="617.94" y2="330.3" stroke="#4a4a4a" stroke-width="0.8"/>
<rect x="616.79" y="311.2" width="2.3" height="5.3" fill="#06828f"/>
<line x1="621.28" y1="297.0" x2="621.28" y2="329.0" stroke="#4a4a4a" stroke-width="0.8"/>
<rect x="620.13" y="311.9" width="2.3" height="10.1" fill="#c9202f"/>
<line x1="624.62" y1="292.5" x2="624.62" y2="322.4" stroke="#4a4a4a" stroke-width="0.8"/>
<rect x="623.47" y="303.2" width="2.3" height="18.8" fill="#06828f"/>
<line x1="627.97" y1="295.4" x2="627.97" y2="308.7" stroke="#4a4a4a" stroke-width="0.8"/>
<rect x="626.82" y="303.2" width="2.3" height="1.7" fill="#c9202f"/>
<line x1="631.31" y1="298.2" x2="631.31" y2="318.7" stroke="#4a4a4a" stroke-width="0.8"/>
<rect x="630.16" y="304.9" width="2.3" height="3.3" fill="#c9202f"/>
<line x1="634.65" y1="300.8" x2="634.65" y2="310.8" stroke="#4a4a4a" stroke-width="0.8"/>
<rect x="633.50" y="303.2" width="2.3" height="5.5" fill="#06828f"/>
<line x1="637.99" y1="302.9" x2="637.99" y2="303.7" stroke="#4a4a4a" stroke-width="0.8"/>
<line x1="636.79" y1="303.3" x2="639.19" y2="303.3" stroke="#444" stroke-width="0.8"/>
<line x1="641.33" y1="303.3" x2="641.33" y2="311.3" stroke="#4a4a4a" stroke-width="0.8"/>
<rect x="640.18" y="306.5" width="2.3" height="4.3" fill="#06828f"/>
<line x1="644.68" y1="299.9" x2="644.68" y2="316.2" stroke="#4a4a4a" stroke-width="0.8"/>
<rect x="643.53" y="305.3" width="2.3" height="3.9" fill="#06828f"/>
<line x1="648.02" y1="299.9" x2="648.02" y2="309.6" stroke="#4a4a4a" stroke-width="0.8"/>
<rect x="646.87" y="305.3" width="2.3" height="3.4" fill="#c9202f"/>
<line x1="651.36" y1="305.3" x2="651.36" y2="314.6" stroke="#4a4a4a" stroke-width="0.8"/>
<line x1="650.16" y1="309.1" x2="652.56" y2="309.1" stroke="#444" stroke-width="0.8"/>
<line x1="654.70" y1="291.6" x2="654.70" y2="316.6" stroke="#4a4a4a" stroke-width="0.8"/>
<rect x="653.55" y="303.2" width="2.3" height="6.0" fill="#06828f"/>
<line x1="658.04" y1="299.1" x2="658.04" y2="308.7" stroke="#4a4a4a" stroke-width="0.8"/>
<rect x="656.89" y="304.1" width="2.3" height="1.8" fill="#c9202f"/>
<line x1="661.39" y1="298.2" x2="661.39" y2="312.9" stroke="#4a4a4a" stroke-width="0.8"/>
<rect x="660.24" y="302.9" width="2.3" height="3.7" fill="#06828f"/>
<line x1="664.73" y1="285.7" x2="664.73" y2="310.9" stroke="#4a4a4a" stroke-width="0.8"/>
<rect x="663.58" y="302.4" width="2.3" height="2.5" fill="#c9202f"/>
<line x1="668.07" y1="304.1" x2="668.07" y2="318.2" stroke="#4a4a4a" stroke-width="0.8"/>
<rect x="666.92" y="304.6" width="2.3" height="7.0" fill="#c9202f"/>
<line x1="671.41" y1="301.6" x2="671.41" y2="318.2" stroke="#4a4a4a" stroke-width="0.8"/>
<line x1="670.21" y1="311.3" x2="672.61" y2="311.3" stroke="#444" stroke-width="0.8"/>
<line x1="674.75" y1="300.8" x2="674.75" y2="324.1" stroke="#4a4a4a" stroke-width="0.8"/>
<rect x="673.60" y="311.9" width="2.3" height="2.2" fill="#c9202f"/>
<line x1="678.10" y1="296.8" x2="678.10" y2="323.2" stroke="#4a4a4a" stroke-width="0.8"/>
<rect x="676.95" y="301.9" width="2.3" height="12.1" fill="#06828f"/>
<line x1="681.44" y1="275.7" x2="681.44" y2="312.9" stroke="#4a4a4a" stroke-width="0.8"/>
<rect x="680.29" y="276.2" width="2.3" height="26.2" fill="#06828f"/>
<line x1="684.78" y1="260.7" x2="684.78" y2="282.4" stroke="#4a4a4a" stroke-width="0.8"/>
<rect x="683.63" y="264.1" width="2.3" height="13.4" fill="#06828f"/>
<line x1="688.12" y1="257.4" x2="688.12" y2="282.4" stroke="#4a4a4a" stroke-width="0.8"/>
<rect x="686.97" y="264.1" width="2.3" height="7.5" fill="#c9202f"/>
<line x1="691.46" y1="261.9" x2="691.46" y2="295.8" stroke="#4a4a4a" stroke-width="0.8"/>
<line x1="690.26" y1="271.6" x2="692.66" y2="271.6" stroke="#444" stroke-width="0.8"/>
<line x1="694.81" y1="265.7" x2="694.81" y2="280.8" stroke="#4a4a4a" stroke-width="0.8"/>
<rect x="693.66" y="268.6" width="2.3" height="4.7" fill="#06828f"/>
<line x1="698.15" y1="247.4" x2="698.15" y2="272.4" stroke="#4a4a4a" stroke-width="0.8"/>
<rect x="697.00" y="251.3" width="2.3" height="17.8" fill="#06828f"/>
<line x1="701.49" y1="229.1" x2="701.49" y2="252.3" stroke="#4a4a4a" stroke-width="0.8"/>
<rect x="700.34" y="241.9" width="2.3" height="10.0" fill="#06828f"/>
<line x1="704.83" y1="235.0" x2="704.83" y2="253.3" stroke="#4a4a4a" stroke-width="0.8"/>
<rect x="703.68" y="241.9" width="2.3" height="1.7" fill="#c9202f"/>
<line x1="708.17" y1="239.1" x2="708.17" y2="257.9" stroke="#4a4a4a" stroke-width="0.8"/>
<rect x="707.02" y="242.4" width="2.3" height="12.5" fill="#c9202f"/>
<line x1="711.52" y1="234.1" x2="711.52" y2="255.8" stroke="#4a4a4a" stroke-width="0.8"/>
<rect x="710.37" y="235.8" width="2.3" height="19.5" fill="#06828f"/>
<line x1="714.86" y1="235.5" x2="714.86" y2="246.6" stroke="#4a4a4a" stroke-width="0.8"/>
<rect x="713.71" y="235.8" width="2.3" height="8.3" fill="#c9202f"/>
<line x1="718.20" y1="231.6" x2="718.20" y2="244.1" stroke="#4a4a4a" stroke-width="0.8"/>
<rect x="717.05" y="240.3" width="2.3" height="3.3" fill="#06828f"/>
<line x1="721.54" y1="239.6" x2="721.54" y2="246.6" stroke="#4a4a4a" stroke-width="0.8"/>
<rect x="720.39" y="240.0" width="2.3" height="1.0" fill="#c9202f"/>
<line x1="724.88" y1="240.0" x2="724.88" y2="245.8" stroke="#4a4a4a" stroke-width="0.8"/>
<rect x="723.73" y="240.3" width="2.3" height="2.7" fill="#c9202f"/>
<line x1="728.23" y1="241.6" x2="728.23" y2="248.3" stroke="#4a4a4a" stroke-width="0.8"/>
<rect x="727.08" y="241.9" width="2.3" height="6.0" fill="#c9202f"/>
<line x1="731.57" y1="243.3" x2="731.57" y2="252.4" stroke="#4a4a4a" stroke-width="0.8"/>
<rect x="730.42" y="247.4" width="2.3" height="3.8" fill="#c9202f"/>
<line x1="734.91" y1="245.8" x2="734.91" y2="256.6" stroke="#4a4a4a" stroke-width="0.8"/>
<rect x="733.76" y="251.3" width="2.3" height="4.5" fill="#c9202f"/>
<line x1="738.25" y1="250.8" x2="738.25" y2="263.2" stroke="#4a4a4a" stroke-width="0.8"/>
<rect x="737.10" y="254.9" width="2.3" height="8.0" fill="#c9202f"/>
<line x1="741.59" y1="258.2" x2="741.59" y2="266.2" stroke="#4a4a4a" stroke-width="0.8"/>
<rect x="740.44" y="262.4" width="2.3" height="1.2" fill="#c9202f"/>
<line x1="744.94" y1="257.9" x2="744.94" y2="264.1" stroke="#4a4a4a" stroke-width="0.8"/>
<rect x="743.79" y="258.6" width="2.3" height="5.0" fill="#06828f"/>
<line x1="748.28" y1="255.3" x2="748.28" y2="264.6" stroke="#4a4a4a" stroke-width="0.8"/>
<rect x="747.13" y="258.6" width="2.3" height="5.5" fill="#c9202f"/>
<line x1="751.62" y1="257.9" x2="751.62" y2="266.9" stroke="#4a4a4a" stroke-width="0.8"/>
<rect x="750.47" y="263.6" width="2.3" height="3.0" fill="#c9202f"/>
</g>
<line x1="947.4" y1="50.5" x2="947.4" y2="494.6" stroke="#a2a2a2" stroke-width="1.3"/>
<line x1="0" y1="494.6" x2="947.9" y2="494.6" stroke="#a2a2a2" stroke-width="1.3"/>
<line x1="621.4" y1="58" x2="810.7" y2="58" stroke="#f7a6ad" stroke-width="1.5"/>
<line x1="846" y1="118.2" x2="949" y2="118.2" stroke="#f7a6ad" stroke-width="1.3"/>
<line x1="391" y1="200" x2="809" y2="200" stroke="#f7a6ad" stroke-width="1.3"/>
<line x1="674.8" y1="328.3" x2="809" y2="328.3" stroke="#a5c6cb" stroke-width="1.2"/>
<line x1="534" y1="403.2" x2="845.5" y2="403.2" stroke="#bcd3d7" stroke-width="2.9"/>
<line x1="621.6" y1="58" x2="611.3" y2="282" stroke="#444" stroke-width="0.6"/>
<line x1="370.5" y1="204.9" x2="723.5" y2="280.8" stroke="#fd7a0c" stroke-width="2.9" stroke-linecap="round"/>
<line x1="502.3" y1="409.4" x2="724.5" y2="302.1" stroke="#fd7a0c" stroke-width="3" stroke-linecap="round"/>
<defs><linearGradient id="gt" x1="0" y1="0" x2="1" y2="0"><stop offset="0" stop-color="#4a8795"/><stop offset="0.7" stop-color="#3a7482"/><stop offset="1" stop-color="#2b5c68"/></linearGradient><linearGradient id="gr" x1="0" y1="0" x2="1" y2="0"><stop offset="0" stop-color="#ee3a46"/><stop offset="0.75" stop-color="#e8313d"/><stop offset="1" stop-color="#c4222e"/></linearGradient></defs>
<path d="M813.9 251.9 C815.2 251.1 819.2 249.5 821.8 247.3 C824.4 245.1 827.5 242.0 829.5 238.9 C831.5 235.8 832.9 232.2 834.1 228.9 C835.3 225.6 836.2 221.8 836.7 219.0 C837.2 216.2 837.2 213.8 837.1 212.1 C837.0 210.4 836.4 209.2 836.3 208.6 L832.3 211.3 C832.0 210.0 831.3 206.0 830.5 203.5 C829.7 201.0 828.7 198.7 827.5 196.5 C826.3 194.3 824.1 191.4 823.4 190.4 L825.2 186.8 C826.6 187.6 831.1 189.5 833.5 191.3 C835.9 193.1 837.9 195.4 839.5 197.5 C841.1 199.6 842.8 202.6 843.4 203.6 L842.2 205.4 C842.3 206.3 842.8 208.2 842.8 210.6 C842.8 213.0 842.8 216.5 842.2 219.8 C841.6 223.1 840.8 226.9 839.4 230.5 C838.0 234.1 836.3 237.9 834.1 241.2 C831.9 244.5 829.3 247.8 826.4 250.3 C823.5 252.8 818.1 255.1 816.5 256.0 Z" fill="url(#gt)"/>
<path d="M813.9 261.0 C815.2 261.6 819.3 262.7 822.0 264.6 C824.7 266.6 827.9 269.6 830.2 272.7 C832.5 275.8 834.3 279.8 835.8 283.3 C837.3 286.8 838.6 290.4 839.4 293.8 C840.2 297.2 840.6 301.4 840.7 303.6 C840.9 305.9 840.4 306.7 840.3 307.3 L835.3 306.3 C835.0 307.7 834.3 311.8 833.6 314.5 C832.9 317.2 832.0 319.9 831.0 322.5 C830.0 325.1 828.2 328.8 827.6 330.0 L829.6 331.3 C830.8 330.4 834.8 328.1 837.0 326.0 C839.2 323.9 841.2 321.5 843.0 319.0 C844.8 316.5 846.8 312.3 847.6 311.0 L846.5 309.6 C846.6 308.6 847.0 306.5 846.9 303.6 C846.8 300.7 846.5 296.0 845.6 292.2 C844.7 288.4 843.3 284.6 841.5 280.8 C839.7 277.0 837.6 272.8 835.0 269.5 C832.4 266.2 829.1 263.1 826.1 261.0 C823.1 258.9 818.3 257.5 816.7 256.8 Z" fill="url(#gr)"/>
<g transform="translate(641.1,68.3) scale(0.905,1)"><text x="0" y="0" text-rendering="geometricPrecision" font-family="'Liberation Sans',Arial,sans-serif" font-weight="700" font-size="15.2" fill="#0a0a0a" stroke="#fff" stroke-width="1.9" paint-order="stroke" stroke-linejoin="round" filter="url(#ts)">1.107</text></g>
<g transform="translate(885.4,113.2) scale(0.905,1)"><text x="0" y="0" text-rendering="geometricPrecision" font-family="'Liberation Sans',Arial,sans-serif" font-weight="700" font-size="15.2" fill="#0a0a0a" stroke="#fff" stroke-width="1.9" paint-order="stroke" stroke-linejoin="round" filter="url(#ts)">1.10</text></g>
<g transform="translate(379.6,193.3) scale(0.905,1)"><text x="0" y="0" text-rendering="geometricPrecision" font-family="'Liberation Sans',Arial,sans-serif" font-weight="700" font-size="15.2" fill="#0a0a0a" stroke="#fff" stroke-width="1.9" paint-order="stroke" stroke-linejoin="round" filter="url(#ts)">1.095</text></g>
<g transform="translate(686.3,220.8) scale(0.905,1)"><text x="0" y="0" text-rendering="geometricPrecision" font-family="'Liberation Sans',Arial,sans-serif" font-weight="700" font-size="15.2" fill="#0a0a0a" stroke="#fff" stroke-width="1.9" paint-order="stroke" stroke-linejoin="round" filter="url(#ts)">1.093</text></g>
<g transform="translate(682.9,341.3) scale(0.905,1)"><text x="0" y="0" text-rendering="geometricPrecision" font-family="'Liberation Sans',Arial,sans-serif" font-weight="700" font-size="15.2" fill="#0a0a0a" stroke="#fff" stroke-width="1.9" paint-order="stroke" stroke-linejoin="round" filter="url(#ts)">1.087</text></g>
<g transform="translate(535.3,416.1) scale(0.905,1)"><text x="0" y="0" text-rendering="geometricPrecision" font-family="'Liberation Sans',Arial,sans-serif" font-weight="700" font-size="15.2" fill="#0a0a0a" stroke="#fff" stroke-width="1.9" paint-order="stroke" stroke-linejoin="round" filter="url(#ts)">1.083</text></g>
<line x1="947.5" y1="118.2" x2="949.2" y2="118.2" stroke="#666" stroke-width="0.7"/>
<text x="951" y="120.15" font-family="'Liberation Sans',Arial,sans-serif" font-size="5.6" fill="#666" textLength="19.6" lengthAdjust="spacingAndGlyphs">1.10000</text>
<line x1="947.5" y1="197.5" x2="949.2" y2="197.5" stroke="#666" stroke-width="0.7"/>
<text x="951" y="199.45" font-family="'Liberation Sans',Arial,sans-serif" font-size="5.6" fill="#666" textLength="19.6" lengthAdjust="spacingAndGlyphs">1.09500</text>
<line x1="947.5" y1="276.3" x2="949.2" y2="276.3" stroke="#666" stroke-width="0.7"/>
<text x="951" y="278.25" font-family="'Liberation Sans',Arial,sans-serif" font-size="5.6" fill="#666" textLength="19.6" lengthAdjust="spacingAndGlyphs">1.09000</text>
<line x1="947.5" y1="355.7" x2="949.2" y2="355.7" stroke="#666" stroke-width="0.7"/>
<text x="951" y="357.65" font-family="'Liberation Sans',Arial,sans-serif" font-size="5.6" fill="#666" textLength="19.6" lengthAdjust="spacingAndGlyphs">1.08500</text>
<line x1="947.5" y1="434.4" x2="949.2" y2="434.4" stroke="#666" stroke-width="0.7"/>
<text x="951" y="436.34999999999997" font-family="'Liberation Sans',Arial,sans-serif" font-size="5.6" fill="#666" textLength="19.6" lengthAdjust="spacingAndGlyphs">1.08000</text>
<path d="M943.9 266.7 L946.9 262.7 L974.2 262.7 Q975 262.7 975 263.5 L975 270.1 Q975 270.9 974.2 270.9 L946.9 270.9 Z" fill="#5b55a9"/>
<text x="950.9" y="268.7" font-family="'Liberation Sans',Arial,sans-serif" font-size="5.6" fill="#fff" textLength="23" lengthAdjust="spacingAndGlyphs">1.090640</text>
<line x1="40.2" y1="494.6" x2="40.2" y2="496.6" stroke="#999" stroke-width="0.8"/>
<text x="33.1" y="503.1" font-family="'Liberation Sans',Arial,sans-serif" font-size="5.7" fill="#555" textLength="14.2" lengthAdjust="spacingAndGlyphs">10:00</text>
<line x1="119.6" y1="494.6" x2="119.6" y2="496.6" stroke="#999" stroke-width="0.8"/>
<text x="112.5" y="503.1" font-family="'Liberation Sans',Arial,sans-serif" font-size="5.7" fill="#555" textLength="14.2" lengthAdjust="spacingAndGlyphs">10:00</text>
<line x1="200.4" y1="494.6" x2="200.4" y2="496.6" stroke="#999" stroke-width="0.8"/>
<text x="193.3" y="503.1" font-family="'Liberation Sans',Arial,sans-serif" font-size="5.7" fill="#555" textLength="14.2" lengthAdjust="spacingAndGlyphs">10:00</text>
<line x1="284" y1="494.6" x2="284" y2="496.6" stroke="#999" stroke-width="0.8"/>
<text x="276.9" y="503.1" font-family="'Liberation Sans',Arial,sans-serif" font-size="5.7" fill="#555" textLength="14.2" lengthAdjust="spacingAndGlyphs">10:00</text>
<line x1="363.9" y1="494.6" x2="363.9" y2="496.6" stroke="#999" stroke-width="0.8"/>
<text x="356.79999999999995" y="503.1" font-family="'Liberation Sans',Arial,sans-serif" font-size="5.7" fill="#555" textLength="14.2" lengthAdjust="spacingAndGlyphs">10:00</text>
<line x1="444.4" y1="494.6" x2="444.4" y2="496.6" stroke="#999" stroke-width="0.8"/>
<text x="437.29999999999995" y="503.1" font-family="'Liberation Sans',Arial,sans-serif" font-size="5.7" fill="#555" textLength="14.2" lengthAdjust="spacingAndGlyphs">10:00</text>
<line x1="524.6" y1="494.6" x2="524.6" y2="496.6" stroke="#999" stroke-width="0.8"/>
<text x="517.5" y="503.1" font-family="'Liberation Sans',Arial,sans-serif" font-size="5.7" fill="#555" textLength="14.2" lengthAdjust="spacingAndGlyphs">10:00</text>
<line x1="605" y1="494.6" x2="605" y2="496.6" stroke="#999" stroke-width="0.8"/>
<text x="597.9" y="503.1" font-family="'Liberation Sans',Arial,sans-serif" font-size="5.7" fill="#555" textLength="14.2" lengthAdjust="spacingAndGlyphs">10:00</text>
<line x1="684.5" y1="494.6" x2="684.5" y2="496.6" stroke="#999" stroke-width="0.8"/>
<text x="677.4" y="503.1" font-family="'Liberation Sans',Arial,sans-serif" font-size="5.7" fill="#555" textLength="14.2" lengthAdjust="spacingAndGlyphs">10:00</text>
<line x1="765.7" y1="494.6" x2="765.7" y2="496.6" stroke="#999" stroke-width="0.8"/>
<text x="758.6" y="503.1" font-family="'Liberation Sans',Arial,sans-serif" font-size="5.7" fill="#555" textLength="14.2" lengthAdjust="spacingAndGlyphs">10:00</text>
<line x1="845.8" y1="494.6" x2="845.8" y2="496.6" stroke="#999" stroke-width="0.8"/>
<text x="838.6999999999999" y="503.1" font-family="'Liberation Sans',Arial,sans-serif" font-size="5.7" fill="#555" textLength="14.2" lengthAdjust="spacingAndGlyphs">10:00</text>
<line x1="925.6" y1="494.6" x2="925.6" y2="496.6" stroke="#999" stroke-width="0.8"/>
<text x="918.5" y="503.1" font-family="'Liberation Sans',Arial,sans-serif" font-size="5.7" fill="#555" textLength="14.2" lengthAdjust="spacingAndGlyphs">10:00</text>
<line x1="4.8" y1="494.6" x2="4.8" y2="497" stroke="#999" stroke-width="0.8"/>
<line x1="4.8" y1="497" x2="4.8" y2="505" stroke="#c8c8c8" stroke-width="0.7" stroke-dasharray="0.8 0.8"/>
<text x="-2.8" y="510.3" font-family="'Liberation Sans',Arial,sans-serif" font-size="5.7" fill="#555" textLength="15.2" lengthAdjust="spacingAndGlyphs">05/03</text>
<line x1="84.6" y1="494.6" x2="84.6" y2="497" stroke="#999" stroke-width="0.8"/>
<line x1="84.6" y1="497" x2="84.6" y2="505" stroke="#c8c8c8" stroke-width="0.7" stroke-dasharray="0.8 0.8"/>
<text x="77.0" y="510.3" font-family="'Liberation Sans',Arial,sans-serif" font-size="5.7" fill="#555" textLength="15.2" lengthAdjust="spacingAndGlyphs">06/03</text>
<line x1="165.3" y1="494.6" x2="165.3" y2="497" stroke="#999" stroke-width="0.8"/>
<line x1="165.3" y1="497" x2="165.3" y2="505" stroke="#c8c8c8" stroke-width="0.7" stroke-dasharray="0.8 0.8"/>
<text x="157.70000000000002" y="510.3" font-family="'Liberation Sans',Arial,sans-serif" font-size="5.7" fill="#555" textLength="15.2" lengthAdjust="spacingAndGlyphs">07/03</text>
<line x1="238.6" y1="494.6" x2="238.6" y2="497" stroke="#999" stroke-width="0.8"/>
<line x1="238.6" y1="497" x2="238.6" y2="505" stroke="#c8c8c8" stroke-width="0.7" stroke-dasharray="0.8 0.8"/>
<text x="231.0" y="510.3" font-family="'Liberation Sans',Arial,sans-serif" font-size="5.7" fill="#555" textLength="15.2" lengthAdjust="spacingAndGlyphs">09/03</text>
<line x1="329.2" y1="494.6" x2="329.2" y2="497" stroke="#999" stroke-width="0.8"/>
<line x1="329.2" y1="497" x2="329.2" y2="505" stroke="#c8c8c8" stroke-width="0.7" stroke-dasharray="0.8 0.8"/>
<text x="321.59999999999997" y="510.3" font-family="'Liberation Sans',Arial,sans-serif" font-size="5.7" fill="#555" textLength="15.2" lengthAdjust="spacingAndGlyphs">11/03</text>
<line x1="409.3" y1="494.6" x2="409.3" y2="497" stroke="#999" stroke-width="0.8"/>
<line x1="409.3" y1="497" x2="409.3" y2="505" stroke="#c8c8c8" stroke-width="0.7" stroke-dasharray="0.8 0.8"/>
<text x="401.7" y="510.3" font-family="'Liberation Sans',Arial,sans-serif" font-size="5.7" fill="#555" textLength="15.2" lengthAdjust="spacingAndGlyphs">12/03</text>
<line x1="489.6" y1="494.6" x2="489.6" y2="497" stroke="#999" stroke-width="0.8"/>
<line x1="489.6" y1="497" x2="489.6" y2="505" stroke="#c8c8c8" stroke-width="0.7" stroke-dasharray="0.8 0.8"/>
<text x="482.0" y="510.3" font-family="'Liberation Sans',Arial,sans-serif" font-size="5.7" fill="#555" textLength="15.2" lengthAdjust="spacingAndGlyphs">13/03</text>
<line x1="569.7" y1="494.6" x2="569.7" y2="497" stroke="#999" stroke-width="0.8"/>
<line x1="569.7" y1="497" x2="569.7" y2="505" stroke="#c8c8c8" stroke-width="0.7" stroke-dasharray="0.8 0.8"/>
<text x="562.1" y="510.3" font-family="'Liberation Sans',Arial,sans-serif" font-size="5.7" fill="#555" textLength="15.2" lengthAdjust="spacingAndGlyphs">14/03</text>
<line x1="640" y1="494.6" x2="640" y2="497" stroke="#999" stroke-width="0.8"/>
<line x1="640" y1="497" x2="640" y2="505" stroke="#c8c8c8" stroke-width="0.7" stroke-dasharray="0.8 0.8"/>
<text x="632.4" y="510.3" font-family="'Liberation Sans',Arial,sans-serif" font-size="5.7" fill="#555" textLength="15.2" lengthAdjust="spacingAndGlyphs">16/03</text>
<line x1="730.4" y1="494.6" x2="730.4" y2="497" stroke="#999" stroke-width="0.8"/>
<line x1="730.4" y1="497" x2="730.4" y2="505" stroke="#c8c8c8" stroke-width="0.7" stroke-dasharray="0.8 0.8"/>
<text x="722.8" y="510.3" font-family="'Liberation Sans',Arial,sans-serif" font-size="5.7" fill="#555" textLength="15.2" lengthAdjust="spacingAndGlyphs">18/03</text>
<line x1="810.7" y1="494.6" x2="810.7" y2="497" stroke="#999" stroke-width="0.8"/>
<line x1="810.7" y1="497" x2="810.7" y2="505" stroke="#c8c8c8" stroke-width="0.7" stroke-dasharray="0.8 0.8"/>
<text x="803.1" y="510.3" font-family="'Liberation Sans',Arial,sans-serif" font-size="5.7" fill="#555" textLength="15.2" lengthAdjust="spacingAndGlyphs">19/03</text>
<line x1="890.6" y1="494.6" x2="890.6" y2="497" stroke="#999" stroke-width="0.8"/>
<line x1="890.6" y1="497" x2="890.6" y2="505" stroke="#c8c8c8" stroke-width="0.7" stroke-dasharray="0.8 0.8"/>
<text x="883.0" y="510.3" font-family="'Liberation Sans',Arial,sans-serif" font-size="5.7" fill="#555" textLength="15.2" lengthAdjust="spacingAndGlyphs">20/03</text>
<rect x="0" y="472.7" width="140" height="18.8" fill="#fff" fill-opacity="0.82"/>
<text x="5" y="481" font-family="'Liberation Sans',Arial,sans-serif" font-size="5.35" fill="#9a9a9a" text-anchor="start">TODAY:</text>
<text x="32" y="481" font-family="'Liberation Sans',Arial,sans-serif" font-size="5.35" fill="#9a9a9a" text-anchor="start">H:</text>
<text x="39" y="481" font-family="'Liberation Sans',Arial,sans-serif" font-size="5.35" fill="#444" text-anchor="start">1.09228</text>
<text x="63" y="481" font-family="'Liberation Sans',Arial,sans-serif" font-size="5.35" fill="#9a9a9a" text-anchor="start">L:</text>
<text x="68.5" y="481" font-family="'Liberation Sans',Arial,sans-serif" font-size="5.35" fill="#444" text-anchor="start">1.09058</text>
<text x="94.4" y="481" font-family="'Liberation Sans',Arial,sans-serif" font-size="5.35" fill="#c8414b" text-anchor="start">-0.00161</text>
<text x="122.5" y="481" font-family="'Liberation Sans',Arial,sans-serif" font-size="5.35" fill="#c8414b" text-anchor="start">-0.1%</text>
<text x="5" y="488" font-family="'Liberation Sans',Arial,sans-serif" font-size="5.35" fill="#9a9a9a" text-anchor="start">CHART:</text>
<text x="32" y="488" font-family="'Liberation Sans',Arial,sans-serif" font-size="5.35" fill="#9a9a9a" text-anchor="start">H:</text>
<text x="39" y="488" font-family="'Liberation Sans',Arial,sans-serif" font-size="5.35" fill="#444" text-anchor="start">1.09472</text>
<text x="63" y="488" font-family="'Liberation Sans',Arial,sans-serif" font-size="5.35" fill="#9a9a9a" text-anchor="start">L:</text>
<text x="68.5" y="488" font-family="'Liberation Sans',Arial,sans-serif" font-size="5.35" fill="#444" text-anchor="start">1.06022</text>
<text x="94.4" y="488" font-family="'Liberation Sans',Arial,sans-serif" font-size="5.35" fill="#2a8c9c" text-anchor="start">0.02804</text>
<text x="122.5" y="488" font-family="'Liberation Sans',Arial,sans-serif" font-size="5.35" fill="#2a8c9c" text-anchor="start">2.6%</text>
<text x="8.1" y="65" font-family="'Liberation Sans',Arial,sans-serif" font-size="6.3" font-weight="700" fill="#444" textLength="43.4" lengthAdjust="spacingAndGlyphs">SPOT, EUR/USD</text>
<defs><clipPath id="fc"><rect width="11" height="8.3" rx="1.3"/></clipPath></defs>
<g transform="translate(14.7,511.9)" opacity="0.5"><g clip-path="url(#fc)"><rect width="11" height="8.3" fill="#2f5688"/><path d="M0 0 L11 8.3 M11 0 L0 8.3" stroke="#fff" stroke-width="2"/><path d="M0 0 L11 8.3 M11 0 L0 8.3" stroke="#e5404d" stroke-width="0.7"/><path d="M5.5 0 V8.3 M0 4.15 H11" stroke="#fff" stroke-width="3"/><path d="M5.5 0 V8.3 M0 4.15 H11" stroke="#e5404d" stroke-width="1.7"/></g></g>
<g transform="translate(94.9,511.9)" opacity="0.5"><g clip-path="url(#fc)"><rect width="11" height="8.3" fill="#2f5688"/><path d="M0 0 L11 8.3 M11 0 L0 8.3" stroke="#fff" stroke-width="2"/><path d="M0 0 L11 8.3 M11 0 L0 8.3" stroke="#e5404d" stroke-width="0.7"/><path d="M5.5 0 V8.3 M0 4.15 H11" stroke="#fff" stroke-width="3"/><path d="M5.5 0 V8.3 M0 4.15 H11" stroke="#e5404d" stroke-width="1.7"/></g></g>
<g transform="translate(175.7,511.9)" opacity="0.5"><g clip-path="url(#fc)"><rect width="11" height="8.3" fill="#2f5688"/><path d="M0 0 L11 8.3 M11 0 L0 8.3" stroke="#fff" stroke-width="2"/><path d="M0 0 L11 8.3 M11 0 L0 8.3" stroke="#e5404d" stroke-width="0.7"/><path d="M5.5 0 V8.3 M0 4.15 H11" stroke="#fff" stroke-width="3"/><path d="M5.5 0 V8.3 M0 4.15 H11" stroke="#e5404d" stroke-width="1.7"/></g></g>
<g transform="translate(259.1,511.9)" opacity="0.5"><g clip-path="url(#fc)"><rect width="11" height="8.3" fill="#2f5688"/><path d="M0 0 L11 8.3 M11 0 L0 8.3" stroke="#fff" stroke-width="2"/><path d="M0 0 L11 8.3 M11 0 L0 8.3" stroke="#e5404d" stroke-width="0.7"/><path d="M5.5 0 V8.3 M0 4.15 H11" stroke="#fff" stroke-width="3"/><path d="M5.5 0 V8.3 M0 4.15 H11" stroke="#e5404d" stroke-width="1.7"/></g></g>
<g transform="translate(339.2,511.9)" opacity="0.5"><g clip-path="url(#fc)"><rect width="11" height="8.3" fill="#2f5688"/><path d="M0 0 L11 8.3 M11 0 L0 8.3" stroke="#fff" stroke-width="2"/><path d="M0 0 L11 8.3 M11 0 L0 8.3" stroke="#e5404d" stroke-width="0.7"/><path d="M5.5 0 V8.3 M0 4.15 H11" stroke="#fff" stroke-width="3"/><path d="M5.5 0 V8.3 M0 4.15 H11" stroke="#e5404d" stroke-width="1.7"/></g></g>
<g transform="translate(419.7,511.9)" opacity="0.5"><g clip-path="url(#fc)"><rect width="11" height="8.3" fill="#2f5688"/><path d="M0 0 L11 8.3 M11 0 L0 8.3" stroke="#fff" stroke-width="2"/><path d="M0 0 L11 8.3 M11 0 L0 8.3" stroke="#e5404d" stroke-width="0.7"/><path d="M5.5 0 V8.3 M0 4.15 H11" stroke="#fff" stroke-width="3"/><path d="M5.5 0 V8.3 M0 4.15 H11" stroke="#e5404d" stroke-width="1.7"/></g></g>
<g transform="translate(499.8,511.9)" opacity="0.5"><g clip-path="url(#fc)"><rect width="11" height="8.3" fill="#2f5688"/><path d="M0 0 L11 8.3 M11 0 L0 8.3" stroke="#fff" stroke-width="2"/><path d="M0 0 L11 8.3 M11 0 L0 8.3" stroke="#e5404d" stroke-width="0.7"/><path d="M5.5 0 V8.3 M0 4.15 H11" stroke="#fff" stroke-width="3"/><path d="M5.5 0 V8.3 M0 4.15 H11" stroke="#e5404d" stroke-width="1.7"/></g></g>
<g transform="translate(580.4,511.9)" opacity="0.5"><g clip-path="url(#fc)"><rect width="11" height="8.3" fill="#2f5688"/><path d="M0 0 L11 8.3 M11 0 L0 8.3" stroke="#fff" stroke-width="2"/><path d="M0 0 L11 8.3 M11 0 L0 8.3" stroke="#e5404d" stroke-width="0.7"/><path d="M5.5 0 V8.3 M0 4.15 H11" stroke="#fff" stroke-width="3"/><path d="M5.5 0 V8.3 M0 4.15 H11" stroke="#e5404d" stroke-width="1.7"/></g></g>
<g transform="translate(901,511.9)" opacity="0.5"><g clip-path="url(#fc)"><rect width="11" height="8.3" fill="#2f5688"/><path d="M0 0 L11 8.3 M11 0 L0 8.3" stroke="#fff" stroke-width="2"/><path d="M0 0 L11 8.3 M11 0 L0 8.3" stroke="#e5404d" stroke-width="0.7"/><path d="M5.5 0 V8.3 M0 4.15 H11" stroke="#fff" stroke-width="3"/><path d="M5.5 0 V8.3 M0 4.15 H11" stroke="#e5404d" stroke-width="1.7"/></g></g>
<g transform="translate(231.9,511.9)" opacity="0.9"><g clip-path="url(#fc)"><rect width="11" height="8.3" fill="#2f5688"/><path d="M0 0 L11 8.3 M11 0 L0 8.3" stroke="#fff" stroke-width="2"/><path d="M0 0 L11 8.3 M11 0 L0 8.3" stroke="#e5404d" stroke-width="0.7"/><path d="M5.5 0 V8.3 M0 4.15 H11" stroke="#fff" stroke-width="3"/><path d="M5.5 0 V8.3 M0 4.15 H11" stroke="#e5404d" stroke-width="1.7"/></g></g>
<g transform="translate(108.2,512)" opacity="0.5"><rect width="10.6" height="8" fill="#f79097"/><path d="M0 1.75 H10.6 M0 4 H10.6 M0 6.25 H10.6" stroke="#fbc4c7" stroke-width="0.6"/><rect width="4.8" height="3.9" fill="#4d5aae"/></g>
<g transform="translate(513.1,512)" opacity="0.5"><rect width="10.6" height="8" fill="#f79097"/><path d="M0 1.75 H10.6 M0 4 H10.6 M0 6.25 H10.6" stroke="#fbc4c7" stroke-width="0.6"/><rect width="4.8" height="3.9" fill="#4d5aae"/></g>
<g transform="translate(673.5,512)" opacity="0.5"><rect width="10.6" height="8" fill="#f79097"/><path d="M0 1.75 H10.6 M0 4 H10.6 M0 6.25 H10.6" stroke="#fbc4c7" stroke-width="0.6"/><rect width="4.8" height="3.9" fill="#4d5aae"/></g>
<g transform="translate(861,512)" opacity="0.5"><rect width="10.6" height="8" fill="#f79097"/><path d="M0 1.75 H10.6 M0 4 H10.6 M0 6.25 H10.6" stroke="#fbc4c7" stroke-width="0.6"/><rect width="4.8" height="3.9" fill="#4d5aae"/></g>
<g transform="translate(189.3,513.8)" fill="none" stroke="#8a8a8a" stroke-width="0.7"><rect x="0.35" y="0.6" width="8.8" height="5" rx="1"/><path d="M4.75 0.3 V5.6"/></g>
<g transform="translate(433.4,513.8)" fill="none" stroke="#8a8a8a" stroke-width="0.7"><rect x="0.35" y="0.6" width="8.8" height="5" rx="1"/><path d="M4.75 0.3 V5.6"/></g>
<g transform="translate(914.8,513.8)" fill="none" stroke="#8a8a8a" stroke-width="0.7"><rect x="0.35" y="0.6" width="8.8" height="5" rx="1"/><path d="M4.75 0.3 V5.6"/></g>
<g id="tools" stroke-linecap="round">
<path d="M803 481.8 L806.3 484.9" stroke="#2e2e2e" stroke-width="1.7" fill="none" stroke-linecap="butt"/><path d="M808.7 487.2 L804.4 486.4 L807.9 482.9 Z" fill="#2e2e2e" stroke="#2e2e2e" stroke-width="0.4" stroke-linejoin="round"/>
<path d="M814.3 486.6 C814.6 483.6,816.5 484.6,818 484.6 C820 484.6,821.4 484,821.7 481.2" stroke="#333" stroke-width="1.3" fill="none"/>
<g stroke="#555" stroke-width="0.7" fill="none" stroke-linecap="butt"><path d="M825 479.5 H835.5 M825 482.3 H835.5 M825 486.2 H835.5 M825 489.2 H835.5" stroke="#444" stroke-width="0.9"/><path d="M825 484.2 H835.5" stroke-dasharray="1 0.8"/><path d="M826.6 479.5 V489.2 M830.2 479.5 V489.2 M833.8 479.5 V489.2" stroke-width="0.9" stroke-dasharray="1.2 0.8"/></g>
<g stroke="#555" stroke-width="0.6" fill="none"><path d="M837.6 479 V489.4 H847.8"/><path d="M837.8 489.2 L841.6 480.3 M837.8 489.2 L845.3 482.3 M837.8 489.2 L847.3 486"/></g>
<path d="M850 484.5 H859.8" stroke="#666" stroke-width="0.8"/>
<path d="M862.8 480.4 L871.2 488.3" stroke="#333" stroke-width="0.9"/><circle cx="862.8" cy="480.4" r="1" fill="#333"/><circle cx="871.2" cy="488.3" r="1" fill="#333"/>
<rect x="875.3" y="480.3" width="8" height="8" fill="none" stroke="#777" stroke-width="0.7"/>
<text x="887.2" y="485.6" font-family="'Liberation Sans',Arial,sans-serif" font-size="5" fill="#777" textLength="8.4" lengthAdjust="spacingAndGlyphs">Abc</text><path d="M887 486.6 H896" stroke="#777" stroke-width="0.6"/>
<path d="M900.2 487.2 L908 481.3" stroke="#555" stroke-width="0.8"/>
<path d="M916 479.8 V488.9" stroke="#777" stroke-width="0.8"/>
<path d="M923.9 488.1 L931.2 481.3" stroke="#3a3a3a" stroke-width="2.1" stroke-linecap="butt"/>
<path d="M936.3 482.4 L940.6 486.7 M940.6 482.4 L936.3 486.7" stroke="#777" stroke-width="0.8"/>
</g>
</svg>
</body></html>
